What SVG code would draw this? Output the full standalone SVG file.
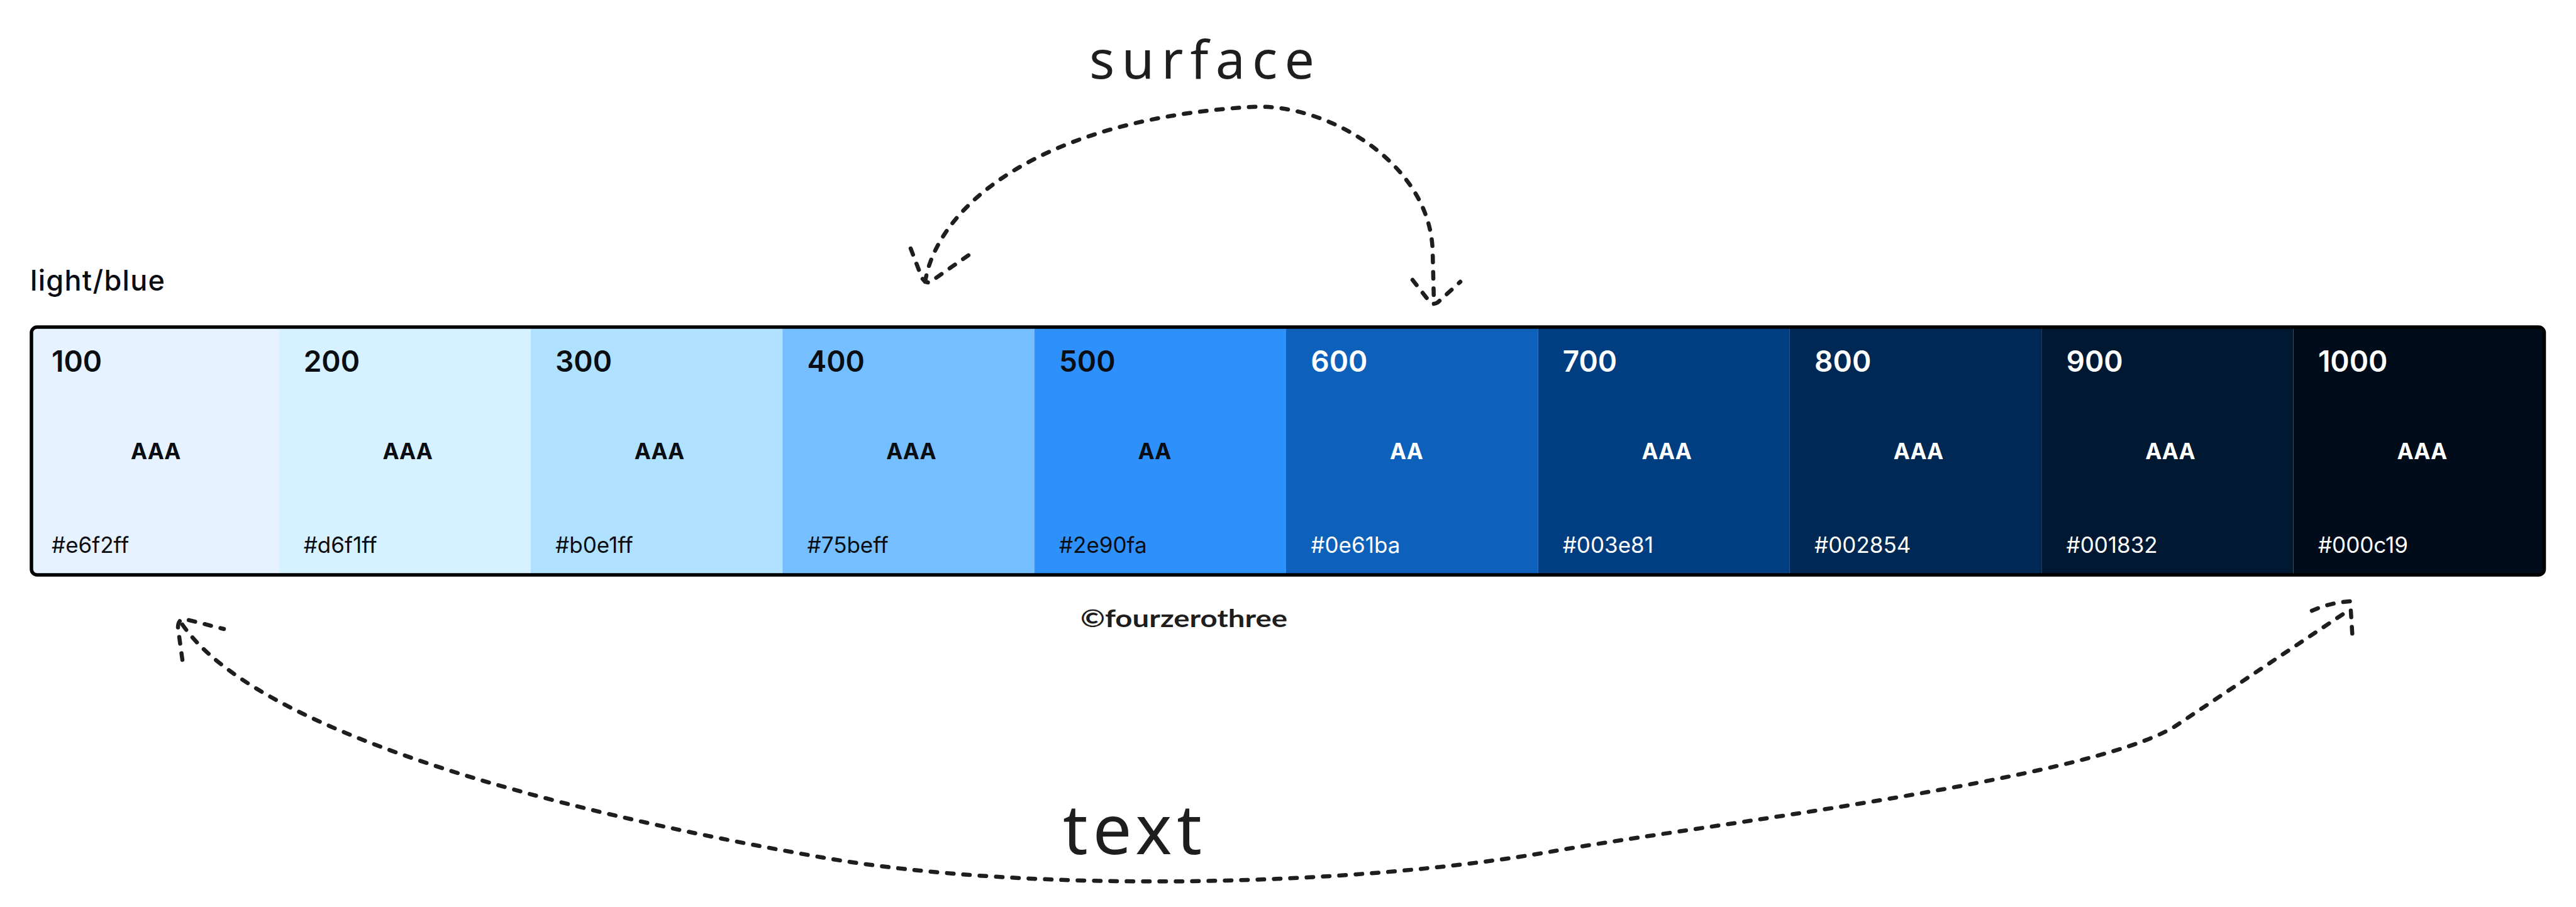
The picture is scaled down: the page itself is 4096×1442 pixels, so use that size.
<svg xmlns="http://www.w3.org/2000/svg" width="4096" height="1442" viewBox="0 0 4096 1442">
  <style>
    .num { font-family: Inter, "Noto Sans", "Liberation Sans", sans-serif; font-size: 46px; font-weight: 600; }
    .grade { font-family: Inter, "Noto Sans", "Liberation Sans", sans-serif; font-size: 35px; font-weight: 700; }
    .hex { font-family: Inter, "Noto Sans", "Liberation Sans", sans-serif; font-size: 35px; font-weight: 400; }
    .dark { fill: #0a0d12; }
    .light { fill: #ffffff; }
    .title { font-family: Inter, "Noto Sans", "Liberation Sans", sans-serif; font-size: 45px; font-weight: 500; fill: #0a0d12; }
    .hand { font-family: "Noto Sans", "Open Sans", sans-serif; font-weight: 400; fill: #1e1e1e; }
    .credit { font-family: Lato, "Noto Sans", sans-serif; font-weight: 700; font-size: 39px; fill: #1e1e1e; }
    .dash { fill: none; stroke: #1e1e1e; stroke-width: 6.5; stroke-linecap: round; stroke-linejoin: round; stroke-dasharray: 10.5 15.5; }
  </style>
  <defs>
    <clipPath id="frameClip">
      <rect x="50" y="520" width="3995.5" height="394" rx="9"/>
    </clipPath>
  </defs>
  <rect width="4096" height="1442" fill="#ffffff"/>

  <text id="title" class="title" x="48" y="462" textLength="214" lengthAdjust="spacing">light/blue</text>

  <g id="palette" clip-path="url(#frameClip)">
    <g id="cell-100">
      <rect x="43" y="520" width="400.4" height="394" fill="#e6f2ff"/>
      <text class="num dark" x="82" y="591">100</text>
      <text class="grade dark" x="208" y="730">AAA</text>
      <text class="hex dark" x="82" y="879">#e6f2ff</text>
    </g>
    <g id="cell-200">
      <rect x="443.4" y="520" width="400.4" height="394" fill="#d6f1ff"/>
      <text class="num dark" x="482.7" y="591">200</text>
      <text class="grade dark" x="608.4" y="730">AAA</text>
      <text class="hex dark" x="482.7" y="879">#d6f1ff</text>
    </g>
    <g id="cell-300">
      <rect x="843.8" y="520" width="400.4" height="394" fill="#b0e1ff"/>
      <text class="num dark" x="883.1" y="591">300</text>
      <text class="grade dark" x="1008.8" y="730">AAA</text>
      <text class="hex dark" x="883.1" y="879">#b0e1ff</text>
    </g>
    <g id="cell-400">
      <rect x="1244.2" y="520" width="400.4" height="394" fill="#75beff"/>
      <text class="num dark" x="1283.5" y="591">400</text>
      <text class="grade dark" x="1409.2" y="730">AAA</text>
      <text class="hex dark" x="1283.5" y="879">#75beff</text>
    </g>
    <g id="cell-500">
      <rect x="1644.6" y="520" width="400.4" height="394" fill="#2e90fa"/>
      <text class="num dark" x="1683.9" y="591">500</text>
      <text class="grade dark" x="1809.6" y="730">AA</text>
      <text class="hex dark" x="1683.9" y="879">#2e90fa</text>
    </g>
    <g id="cell-600">
      <rect x="2045" y="520" width="400.4" height="394" fill="#0e61ba"/>
      <text class="num light" x="2084.3" y="591">600</text>
      <text class="grade light" x="2210" y="730">AA</text>
      <text class="hex light" x="2084.3" y="879">#0e61ba</text>
    </g>
    <g id="cell-700">
      <rect x="2445.4" y="520" width="400.4" height="394" fill="#003e81"/>
      <text class="num light" x="2484.7" y="591">700</text>
      <text class="grade light" x="2610.4" y="730">AAA</text>
      <text class="hex light" x="2484.7" y="879">#003e81</text>
    </g>
    <g id="cell-800">
      <rect x="2845.8" y="520" width="400.4" height="394" fill="#002854"/>
      <text class="num light" x="2885.1" y="591">800</text>
      <text class="grade light" x="3010.8" y="730">AAA</text>
      <text class="hex light" x="2885.1" y="879">#002854</text>
    </g>
    <g id="cell-900">
      <rect x="3246.2" y="520" width="400.4" height="394" fill="#001832"/>
      <text class="num light" x="3285.5" y="591">900</text>
      <text class="grade light" x="3411.2" y="730">AAA</text>
      <text class="hex light" x="3285.5" y="879">#001832</text>
    </g>
    <g id="cell-1000">
      <rect x="3646.6" y="520" width="400.4" height="394" fill="#000c19"/>
      <text class="num light" x="3685.9" y="591">1000</text>
      <text class="grade light" x="3811.6" y="730">AAA</text>
      <text class="hex light" x="3685.9" y="879">#000c19</text>
    </g>
  </g>
  <rect id="frame" x="50" y="520" width="3995.5" height="394" rx="9" fill="none" stroke="#000000" stroke-width="5.5"/>

  <text id="credit" class="credit" x="1718" y="997" textLength="329" lengthAdjust="spacingAndGlyphs">©fourzerothree</text>

  <text id="label-surface" class="hand" x="1732" y="125" font-size="84" textLength="358" lengthAdjust="spacing">surface</text>
  <text id="label-text" class="hand" x="1690" y="1358" font-size="110" textLength="221" lengthAdjust="spacing">text</text>

  <g id="connectors">
    <g id="arrow-surface">
      <path class="dash" d="M 1471 448 C 1490 330, 1650 190, 1990 170 C 2110 163, 2275 260, 2278 400 L 2280 480"/>
      <path class="dash" d="M 1448 395 L 1466 442 Q 1471 450 1478 449 L 1541 405"/>
      <path class="dash" d="M 2246 445 L 2275 482 Q 2281 485 2287 480 L 2322 448"/>
    </g>
    <g id="arrow-text">
      <path class="dash" d="M 290 993 C 407 1161, 859 1285, 1309 1363.5 C 1639 1420.5, 2150 1410, 2473 1352.8 C 2700 1312.6, 3320 1240, 3458 1155 L 3732 972"/>
      <path class="dash" d="M 290 1049 L 283 998 Q 283 985 293 984 L 356 1000"/>
      <path class="dash" d="M 3676 971 Q 3705 958 3737 956 L 3741 1019"/>
    </g>
  </g>
</svg>
